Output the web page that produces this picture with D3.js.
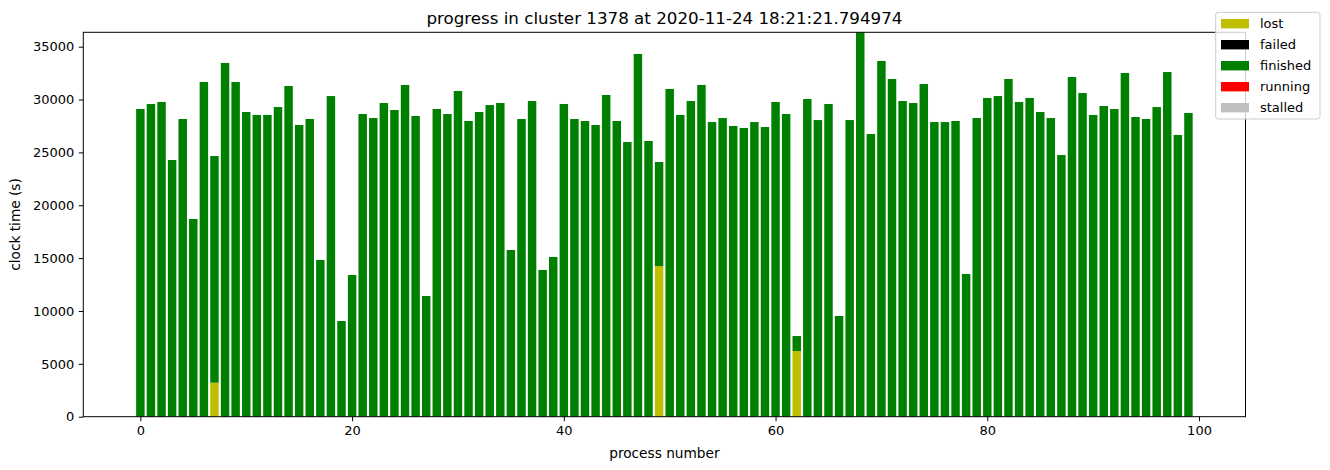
<!DOCTYPE html>
<html>
<head>
<meta charset="utf-8">
<script src="https://cdn.jsdelivr.net/npm/d3@7"></script>
<style>
  body { margin: 0; background: #fff; }
  text { font-family: "DejaVu Sans", sans-serif; fill: #000; }
</style>
</head>
<body>
<div id="chart"></div>
<script>
const width = 1330;
const height = 470;
const margin = {top: 32.3, right: 84.5, bottom: 53.3, left: 83.3};

// process numbers 0..99
const processes = [
  0, 1, 2, 3, 4, 5, 6, 7, 8, 9, 10, 11, 12, 13, 14, 15, 16, 17, 18, 19,
  20, 21, 22, 23, 24, 25, 26, 27, 28, 29, 30, 31, 32, 33, 34, 35, 36, 37, 38, 39,
  40, 41, 42, 43, 44, 45, 46, 47, 48, 49, 50, 51, 52, 53, 54, 55, 56, 57, 58, 59,
  60, 61, 62, 63, 64, 65, 66, 67, 68, 69, 70, 71, 72, 73, 74, 75, 76, 77, 78, 79,
  80, 81, 82, 83, 84, 85, 86, 87, 88, 89, 90, 91, 92, 93, 94, 95, 96, 97, 98, 99
];

// clock time (s) per state, stacked bottom-up in this order
const lost = [
  0, 0, 0, 0, 0, 0, 0, 3216, 0, 0, 0, 0, 0, 0, 0, 0, 0, 0, 0, 0,
  0, 0, 0, 0, 0, 0, 0, 0, 0, 0, 0, 0, 0, 0, 0, 0, 0, 0, 0, 0,
  0, 0, 0, 0, 0, 0, 0, 0, 0, 14250, 0, 0, 0, 0, 0, 0, 0, 0, 0, 0,
  0, 0, 6210, 0, 0, 0, 0, 0, 0, 0, 0, 0, 0, 0, 0, 0, 0, 0, 0, 0,
  0, 0, 0, 0, 0, 0, 0, 0, 0, 0, 0, 0, 0, 0, 0, 0, 0, 0, 0, 0
];
const failed = processes.map(() => 0);
const finished = [
  29105, 29580, 29770, 24280, 28160, 18700, 31660, 21440, 33460, 31660,
  28820, 28540, 28540, 29290, 31280, 27590, 28160, 14820, 30330, 9050,
  13400, 28630, 28250, 29670, 29010, 31380, 28440, 11420, 29105, 28630,
  30810, 27970, 28820, 29480, 29670, 15770, 28160, 29860, 13880, 15110,
  29580, 28160, 27970, 27590, 30430, 27970, 25980, 34310, 26080, 9840,
  31000, 28540, 29860, 31380, 27870, 28250, 27500, 27310, 27870, 27400,
  29770, 28630, 1420, 30050, 28060, 29580, 9525, 28060, 36360, 26740,
  33650, 31940, 29860, 29670, 31470, 27870, 27870, 27970, 13500, 28250,
  30150, 30330, 31940, 29770, 30150, 28820, 28250, 24750, 32130, 30620,
  28540, 29390, 29105, 32510, 28350, 28160, 29290, 32600, 26650, 28730
];
const running = processes.map(() => 0);
const stalled = processes.map(() => 0);

const states = ["lost", "failed", "finished", "running", "stalled"];
const colors = ["#bfbf00", "#000000", "#008000", "#ff0000", "#c0c0c0"];
const yTicks = [0, 5000, 10000, 15000, 20000, 25000, 30000, 35000];
const xTicks = [0, 20, 40, 60, 80, 100];

const series = {lost, failed, finished, running, stalled};
const table = processes.map((p, i) => {
  const row = {process: p};
  states.forEach(s => row[s] = series[s][i]);
  return row;
});
const stacked = d3.stack().keys(states)(table);
const ymax = d3.max(table, d => d3.sum(states, s => d[s]));

const svg = d3.select("#chart")
  .append("svg")
  .attr("width", width)
  .attr("height", height);

const x = d3.scaleLinear()
  .domain([-0.4 - 0.05 * 99.8, 99.4 + 0.05 * 99.8])
  .range([margin.left, width - margin.right]);
const y = d3.scaleLinear()
  .domain([0, ymax])
  .range([height - margin.bottom, margin.top]);
const barW = x(0.8) - x(0);

// bars
svg.append("g")
  .selectAll("g")
  .data(stacked)
  .join("g")
  .attr("fill", (d, i) => colors[i])
  .selectAll("rect")
  .data(d => d.filter(v => v[1] > v[0]))
  .join("rect")
  .attr("x", d => x(d.data.process) - barW / 2)
  .attr("width", barW)
  .attr("y", d => y(d[1]))
  .attr("height", d => y(d[0]) - y(d[1]));

// axes
const xAxis = svg.append("g")
  .attr("transform", `translate(0,${height - margin.bottom})`)
  .call(d3.axisBottom(x).tickValues(xTicks).tickSize(4.5).tickPadding(4.5));
const yAxis = svg.append("g")
  .attr("transform", `translate(${margin.left},0)`)
  .call(d3.axisLeft(y).tickValues(yTicks).tickSize(4.5).tickPadding(4.5).tickFormat(d3.format("d")));
[xAxis, yAxis].forEach(a => {
  a.select(".domain").remove();
  a.selectAll("line").attr("stroke", "#000").attr("stroke-width", 1);
  a.selectAll("text").style("font-size", "13px").style("font-family", "DejaVu Sans");
});

// frame
svg.append("rect")
  .attr("x", margin.left)
  .attr("y", margin.top)
  .attr("width", width - margin.left - margin.right)
  .attr("height", height - margin.top - margin.bottom)
  .attr("fill", "none")
  .attr("stroke", "#000")
  .attr("stroke-width", 1);

// title and labels
const cx = (margin.left + width - margin.right) / 2;
svg.append("text")
  .attr("x", cx)
  .attr("y", 23.5)
  .attr("text-anchor", "middle")
  .style("font-size", "16.7px")
  .text("progress in cluster 1378 at 2020-11-24 18:21:21.794974");
svg.append("text")
  .attr("x", cx)
  .attr("y", 457.5)
  .attr("text-anchor", "middle")
  .style("font-size", "13.7px")
  .text("process number");
svg.append("text")
  .attr("transform", `translate(20,${(margin.top + height - margin.bottom) / 2}) rotate(-90)`)
  .attr("text-anchor", "middle")
  .style("font-size", "13.7px")
  .text("clock time (s)");

// legend
const legend = svg.append("g").attr("transform", "translate(1215.7,12.3)");
legend.append("rect")
  .attr("width", 104.3)
  .attr("height", 106.7)
  .attr("rx", 2.5)
  .attr("fill", "#fff")
  .attr("fill-opacity", 0.8)
  .attr("stroke", "#cccccc")
  .attr("stroke-width", 1);
const items = legend.selectAll("g.item")
  .data(states)
  .join("g")
  .attr("class", "item")
  .attr("transform", (d, i) => `translate(0,${11.4 + i * 21})`);
items.append("rect")
  .attr("x", 5.3)
  .attr("y", -4.7)
  .attr("width", 28)
  .attr("height", 9.4)
  .attr("fill", (d, i) => colors[i]);
items.append("text")
  .attr("x", 44.3)
  .attr("dy", "0.35em")
  .style("font-size", "13px")
  .text(d => d);
</script>
</body>
</html>
